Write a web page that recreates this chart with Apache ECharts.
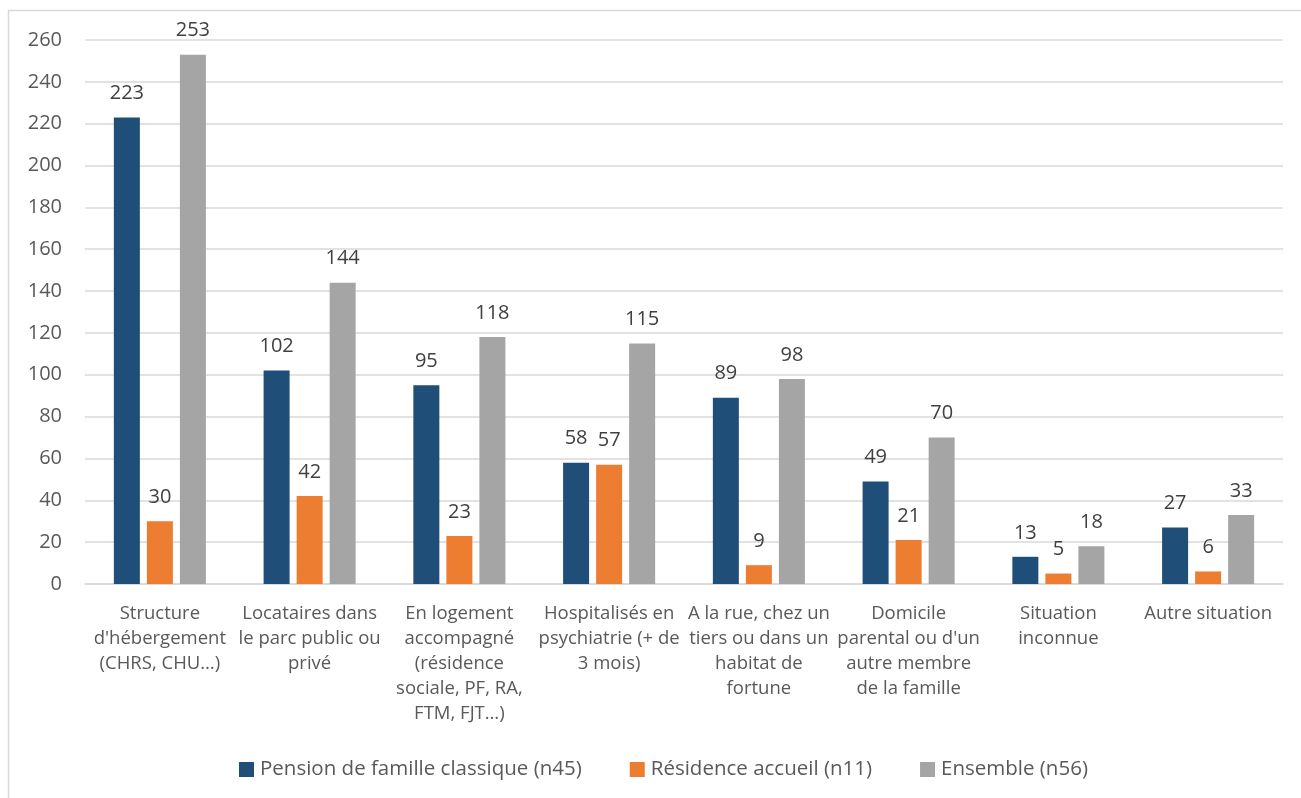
<!DOCTYPE html>
<html>
<head>
<meta charset="utf-8">
<script src="https://cdn.jsdelivr.net/npm/echarts@6/dist/echarts.min.js"></script>
<style>
  html, body { margin: 0; padding: 0; background: #ffffff; }
  #chart { width: 1301px; height: 798px; }
</style>
</head>
<body>
<div id="chart"></div>
<script>
// Situation de logement avant l'entrée, par type de structure
const categories = [
  "Structure\nd'hébergement\n(CHRS, CHU…)",
  "Locataires dans\nle parc public ou\nprivé",
  "En logement\naccompagné\n(résidence\nsociale, PF, RA,\nFTM, FJT…)",
  "Hospitalisés en\npsychiatrie (+ de\n3 mois)",
  "A la rue, chez un\ntiers ou dans un\nhabitat de\nfortune",
  "Domicile\nparental ou d'un\nautre membre\nde la famille",
  "Situation\ninconnue",
  "Autre situation"
];
const seriesNames = [
  "Pension de famille classique (n45)",
  "Résidence accueil (n11)",
  "Ensemble (n56)"
];
const pensionClassique = [223, 102, 95, 58, 89, 49, 13, 27];
const residenceAccueil = [30, 42, 23, 57, 9, 21, 5, 6];
const ensemble = [253, 144, 118, 115, 98, 70, 18, 33];
const yTicks = { min: 0, max: 260, interval: 20 };

const colors = ['#1F4E79', '#ED7D31', '#A5A5A5'];
const textColor = '#595959';
const fontFamily = '"Open Sans", "Noto Sans", sans-serif';

function barSeries(name, values, color) {
  return {
    name: name,
    type: 'bar',
    data: values,
    barWidth: 26,
    barGap: '27%',
    itemStyle: { color: color },
    label: {
      show: true,
      position: 'top',
      distance: 14,
      color: '#404040',
      fontSize: 20,
      fontFamily: fontFamily
    }
  };
}

const chart = echarts.init(document.getElementById('chart'), null, { renderer: 'canvas' });
chart.setOption({
  animation: false,
  backgroundColor: '#ffffff',
  color: colors,
  textStyle: { fontFamily: fontFamily },
  graphic: [{
    type: 'rect',
    shape: { x: 8.5, y: 10.5, width: 1300, height: 800 },
    style: { fill: 'none', stroke: '#D9D9D9', lineWidth: 1.5 },
    silent: true
  }],
  grid: { left: 85, right: 18, top: 40, bottom: 214, containLabel: false },
  legend: {
    top: 754,
    left: 234,
    itemWidth: 15,
    itemHeight: 15,
    itemGap: 48,
    icon: 'rect',
    textStyle: { color: textColor, fontSize: 20.5, fontFamily: fontFamily, padding: [0, 0, 0, 1] },
    data: seriesNames
  },
  xAxis: {
    type: 'category',
    data: categories,
    axisTick: { show: false },
    axisLine: { lineStyle: { color: '#D9D9D9', width: 1.5 } },
    axisLabel: {
      interval: 0,
      margin: 17,
      color: textColor,
      fontSize: 18.5,
      lineHeight: 25,
      fontFamily: fontFamily
    }
  },
  yAxis: {
    type: 'value',
    min: yTicks.min,
    max: yTicks.max,
    interval: yTicks.interval,
    axisLine: { show: false },
    axisTick: { show: false },
    splitLine: { lineStyle: { color: '#D9D9D9', width: 1.5 } },
    axisLabel: { color: textColor, fontSize: 20, margin: 23, fontFamily: fontFamily }
  },
  series: [
    barSeries(seriesNames[0], pensionClassique, colors[0]),
    barSeries(seriesNames[1], residenceAccueil, colors[1]),
    barSeries(seriesNames[2], ensemble, colors[2])
  ]
});
</script>
</body>
</html>
